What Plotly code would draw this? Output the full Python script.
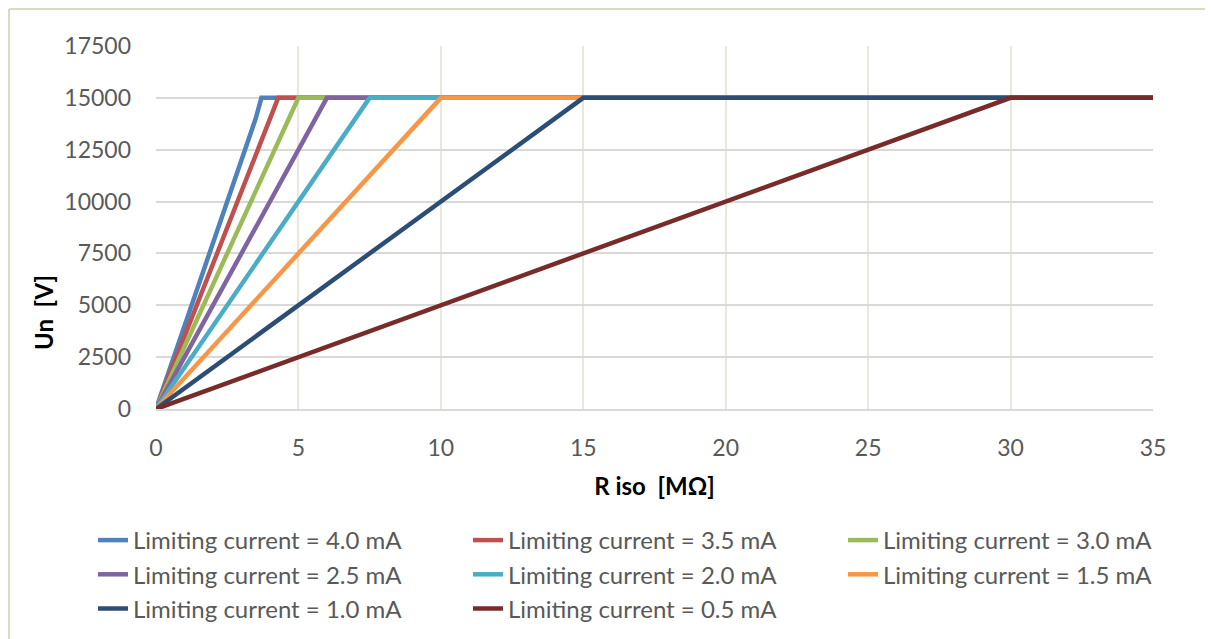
import plotly.graph_objects as go

# data: R iso [MOhm] vs Un [V] per limiting current
labels = [
    "Limiting current = 4.0 mA",
    "Limiting current = 3.5 mA",
    "Limiting current = 3.0 mA",
    "Limiting current = 2.5 mA",
    "Limiting current = 2.0 mA",
    "Limiting current = 1.5 mA",
    "Limiting current = 1.0 mA",
    "Limiting current = 0.5 mA",
]
r_40 = [0, 3.5, 3.7, 35]
u_40 = [0, 14000, 15000, 15000]
r_35 = [0, 4.29, 35]
u_35 = [0, 15000, 15000]
r_30 = [0, 5, 35]
u_30 = [0, 15000, 15000]
r_25 = [0, 6, 35]
u_25 = [0, 15000, 15000]
r_20 = [0, 7.5, 35]
u_20 = [0, 15000, 15000]
r_15 = [0, 10, 35]
u_15 = [0, 15000, 15000]
r_10 = [0, 15, 35]
u_10 = [0, 15000, 15000]
r_05 = [0, 30, 35]
u_05 = [0, 15000, 15000]

series = [(r_40, u_40), (r_35, u_35), (r_30, u_30), (r_25, u_25),
          (r_20, u_20), (r_15, u_15), (r_10, u_10), (r_05, u_05)]

_colors = ["#4F81BD", "#C0504D", "#9BBB59", "#8064A2",
           "#4BACC6", "#F79646", "#2C4D75", "#772C2A"]

# page body has an 8px margin, so the figure is 8px smaller than the window
W, H = 1205, 631
ML, MR, MT, MB = 148, 60, 38, 230
_font = "Lato"
_tick_color = "#595959"

fig = go.Figure()
for i, (r, u) in enumerate(series):
    fig.add_trace(
        go.Scatter(
            x=r, y=u, mode="lines", name=labels[i],
            line=dict(color=_colors[i], width=4.5),
        )
    )

pw = W - ML - MR
ph = H - MT - MB

# outer chart frame (left + top edges visible)
_frame = "#DDD8C4"
fig.add_shape(type="line", xref="paper", yref="paper",
              x0=-(ML - 1) / pw, x1=(W - ML) / pw,
              y0=(H - MB - 1) / ph, y1=(H - MB - 1) / ph,
              line=dict(color=_frame, width=2))
fig.add_shape(type="line", xref="paper", yref="paper",
              x0=-(ML - 1) / pw, x1=-(ML - 1) / pw,
              y0=-MB / ph, y1=(H - MB - 1) / ph,
              line=dict(color=_frame, width=2))

fig.update_layout(
    width=W, height=H,
    margin=dict(l=ML, r=MR, t=MT, b=MB, autoexpand=False),
    paper_bgcolor="white", plot_bgcolor="white",
    font=dict(family=_font, color=_tick_color),
    xaxis=dict(
        range=[0, 35], dtick=5, tick0=0,
        showgrid=True, gridcolor="#EAE7DC", gridwidth=2,
        showline=True, linecolor="#D9D9D9", linewidth=2,
        zeroline=False, ticks="",
        ticklabelstandoff=17,
        tickfont=dict(size=23, color=_tick_color),
        title=dict(text="<b>R iso\u00a0\u00a0[MΩ]</b>", standoff=19,
                   font=dict(size=24, color="black")),
    ),
    yaxis=dict(
        range=[0, 17500], dtick=2500, tick0=0, tickformat="d",
        showgrid=True, gridcolor="#D9D9D9", gridwidth=2,
        zeroline=False, showline=False, ticks="",
        ticklabelstandoff=24,
        tickfont=dict(size=23, color=_tick_color),
    ),
    showlegend=True,
    legend=dict(
        orientation="h",
        x=(85 - ML) / pw, xanchor="left",
        y=-109 / ph, yanchor="top",
        entrywidth=330, entrywidthmode="pixels",
        font=dict(size=24, color=_tick_color),
        traceorder="normal",
    ),
)

# y axis title sits lower than the plot centre in the original
fig.add_annotation(
    text="<b>Un\u00a0\u00a0[V]</b>", textangle=-90, showarrow=False,
    xref="paper", yref="paper",
    x=(35 - ML) / pw, y=(H - MB - 305) / ph,
    xanchor="center", yanchor="middle",
    font=dict(size=24, color="black", family=_font),
)

fig.write_html("out.html")
